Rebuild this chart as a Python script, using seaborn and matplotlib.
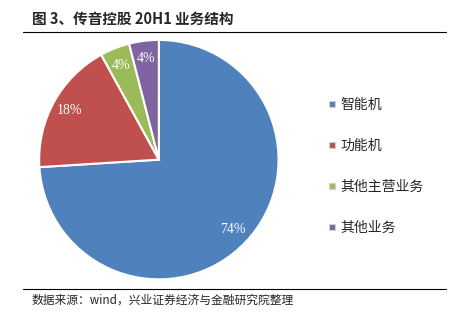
import matplotlib
matplotlib.use("Agg")
import matplotlib.pyplot as plt
import seaborn as sns
from matplotlib.lines import Line2D

sns.set_theme(style="white")
plt.rcParams['font.family'] = ['Noto Sans CJK SC', 'DejaVu Sans']

categories = ["智能机", "功能机", "其他主营业务", "其他业务"]
values = [74, 18, 4, 4]
colors = ["#4F81BD", "#C0504D", "#9BBB59", "#8064A2"]
title = "图 3、传音控股 20H1 业务结构"
source = "数据来源：wind，兴业证券经济与金融研究院整理"

fig = plt.figure(figsize=(4.5, 3.18), dpi=100)
fig.patch.set_facecolor("white")

ax = fig.add_axes([0.091, 0.127, 0.524, 0.742])
wedges, texts, autotexts = ax.pie(
    values, colors=sns.color_palette(colors), startangle=90, counterclock=False,
    autopct="%d%%", pctdistance=0.85,
    wedgeprops=dict(edgecolor="white", linewidth=1.5),
    textprops=dict(color="white", fontsize=10, family="Liberation Serif"))
ax.set_xlim(-0.985, 0.985)
ax.set_ylim(-0.985, 0.985)
ax.set_aspect("equal")

handles = [Line2D([0], [0], marker="s", linestyle="none", markersize=5,
                  markerfacecolor=c, markeredgecolor="#d0d0d0", markeredgewidth=0.8)
           for c in colors]
leg = fig.legend(handles, categories, loc="upper left", bbox_to_anchor=(0.7, 0.732),
                 frameon=False, handlelength=0.6, handletextpad=0.3,
                 labelspacing=1.95, prop=dict(size=10))

fig.text(0.071, 0.94, title, fontsize=10.5, fontweight="bold", va="center", ha="left")
fig.add_artist(Line2D([0.05, 0.99], [0.9, 0.9], color="black", linewidth=0.8))
fig.add_artist(Line2D([0.05, 0.99], [0.091, 0.091], color="black", linewidth=0.8))
fig.text(0.071, 0.056, source, fontsize=8.5, va="center", ha="left")

fig.savefig("out.png", dpi=100, facecolor="white")
